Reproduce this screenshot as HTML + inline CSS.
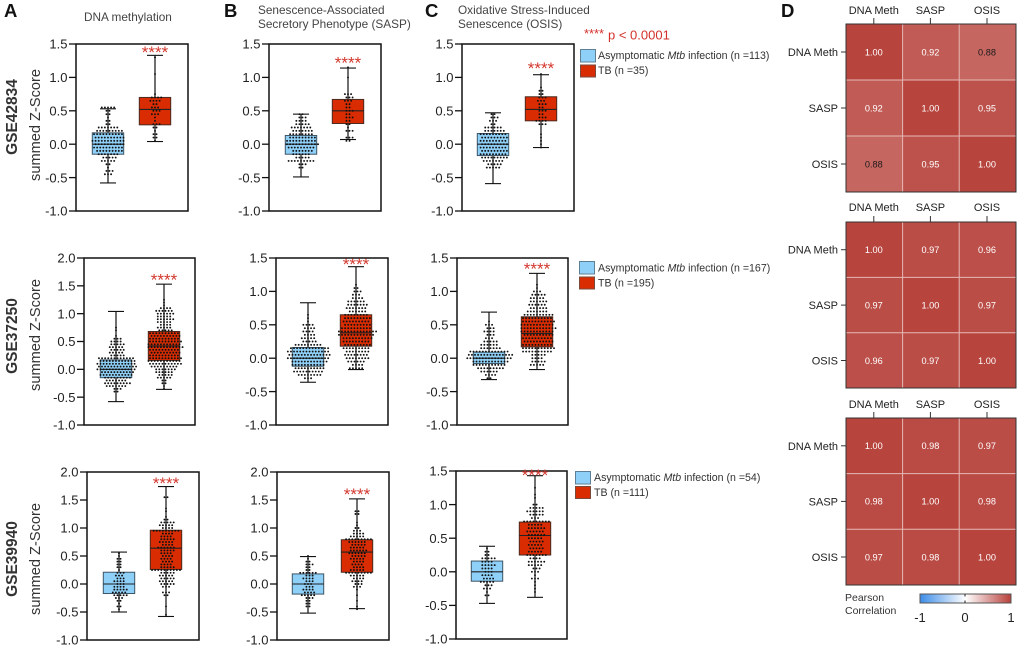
<!DOCTYPE html>
<html lang="en">
<head>
<meta charset="utf-8">
<title>Senescence signature Z-scores</title>
<style>
html,body{margin:0;padding:0;background:#fff;width:1020px;height:649px;overflow:hidden}
svg{display:block}
text{font-family:"Liberation Sans",Arial,sans-serif}
</style>
</head>
<body>
<svg id="fig" xmlns="http://www.w3.org/2000/svg" width="1020" height="649" viewBox="0 0 1020 649">
  <rect width="1020" height="649" fill="#fff"/>
  <g font-weight="bold" font-size="18.5" fill="#111">
    <text x="4" y="17">A</text>
    <text x="224" y="17">B</text>
    <text x="425" y="17">C</text>
    <text x="781" y="17">D</text>
  </g>
  <g font-size="11.8" fill="#444">
    <text x="84" y="21">DNA methylation</text>
    <text x="258" y="14">Senescence-Associated</text>
    <text x="258" y="28">Secretory Phenotype (SASP)</text>
    <text x="458" y="14">Oxidative Stress-Induced</text>
    <text x="458" y="28">Senescence (OSIS)</text>
  </g>
  <g font-weight="bold" font-size="15.5" fill="#333" text-anchor="middle">
    <text transform="translate(17 117) rotate(-90)">GSE42834</text>
    <text transform="translate(17 336) rotate(-90)">GSE37250</text>
    <text transform="translate(17 559) rotate(-90)">GSE39940</text>
  </g>
  <g font-size="14.6" fill="#333" text-anchor="middle">
    <text transform="translate(40 125) rotate(-90)">summed Z-Score</text>
    <text transform="translate(40 335) rotate(-90)">summed Z-Score</text>
    <text transform="translate(40 559) rotate(-90)">summed Z-Score</text>
  </g>
  <text x="584" y="38" font-size="12.8" fill="#d3302a">****</text>
  <text x="608" y="39.5" font-size="13" fill="#d3302a">p &lt; 0.0001</text>

  <g font-size="10.6" fill="#333">
    <rect x="580.5" y="49.5" width="15" height="12.5" fill="#8fd0f8" stroke="#5f7f95"/>
    <text x="598" y="59">Asymptomatic <tspan font-style="italic">Mtb</tspan> infection (n =113)</text>
    <rect x="580.5" y="65" width="15" height="12" fill="#d92c02" stroke="#7a4a3c"/>
    <text x="598" y="74">TB (n =35)</text>
  </g>
  <g font-size="10.6" fill="#333">
    <rect x="579.5" y="261.5" width="15" height="12.5" fill="#8fd0f8" stroke="#5f7f95"/>
    <text x="598" y="271.5">Asymptomatic <tspan font-style="italic">Mtb</tspan> infection (n =167)</text>
    <rect x="579.5" y="277" width="15" height="12" fill="#d92c02" stroke="#7a4a3c"/>
    <text x="598" y="286.5">TB (n =195)</text>
  </g>
  <g font-size="10.6" fill="#333">
    <rect x="575.5" y="471.5" width="15" height="12.5" fill="#8fd0f8" stroke="#5f7f95"/>
    <text x="594" y="481">Asymptomatic <tspan font-style="italic">Mtb</tspan> infection (n =54)</text>
    <rect x="575.5" y="486.5" width="15" height="12" fill="#d92c02" stroke="#7a4a3c"/>
    <text x="594" y="496">TB (n =111)</text>
  </g>

  <defs>
    <linearGradient id="corrGrad" x1="0" x2="1" y1="0" y2="0">
      <stop offset="0" stop-color="#3d8de8"/>
      <stop offset="0.5" stop-color="#ffffff"/>
      <stop offset="1" stop-color="#b8403a"/>
    </linearGradient>
  </defs>
  <g>
    <text x="845" y="601" font-size="10.5" fill="#333">Pearson</text>
    <text x="845" y="614" font-size="10.5" fill="#333">Correlation</text>
    <rect x="920" y="594" width="91" height="9" fill="url(#corrGrad)" stroke="#555"/>
    <line x1="965" x2="965" y1="594" y2="603" stroke="#222" stroke-dasharray="2.5 4"/>
    <g font-size="13" fill="#222" text-anchor="middle">
      <text x="920" y="622">-1</text>
      <text x="965" y="622">0</text>
      <text x="1011" y="622">1</text>
    </g>
  </g>
  <g id="plots"></g>
  <g id="heatmaps"></g>
</svg>
<script>
// ---------- Box plot data: [min, q1, median, q3, max] ----------
const a1BlueStats=[-0.58,-0.15,0,0.17,0.53];
const a1RedStats=[0.04,0.29,0.52,0.70,1.33];
const b1BlueStats=[-0.49,-0.15,0,0.13,0.45];
const b1RedStats=[0.07,0.31,0.50,0.67,1.14];
const c1BlueStats=[-0.59,-0.17,0,0.16,0.47];
const c1RedStats=[-0.05,0.35,0.52,0.71,1.04];
const a2BlueStats=[-0.58,-0.15,0,0.17,1.04];
const a2RedStats=[-0.36,0.16,0.42,0.68,1.53];
const b2BlueStats=[-0.36,-0.12,0,0.16,0.83];
const b2RedStats=[-0.17,0.18,0.38,0.65,1.37];
const c2BlueStats=[-0.32,-0.08,0,0.09,0.69];
const c2RedStats=[-0.17,0.17,0.37,0.62,1.27];
const a3BlueStats=[-0.50,-0.17,0,0.21,0.57];
const a3RedStats=[-0.58,0.26,0.64,0.96,1.74];
const b3BlueStats=[-0.52,-0.18,0,0.18,0.49];
const b3RedStats=[-0.44,0.21,0.57,0.79,1.52];
const c3BlueStats=[-0.47,-0.14,0,0.16,0.38];
const c3RedStats=[-0.38,0.25,0.54,0.74,1.43];

// ---------- Swarm data: lowest Z-score of each series, then dot count per 0.05 Z-score row ----------
const rowStep=0.05;
const a1BlueStart=-0.45;
const a1BlueCounts=[3,3,1,2,5,5,7,9,10,10,11,10,10,9,7,2,2,1,2,2,5];
const a1RedStart=0.05;
const a1RedCounts=[1,2,2,1,2,3,1,1,3,3,3,2,4,4,1,0,0,0,0,0,1,0,0,0,0,1];
const b1BlueStart=-0.35;
const b1BlueCounts=[2,3,9,5,6,7,9,11,10,9,8,7,7,5,4,3,2];
const b1RedStart=0.05;
const b1RedCounts=[2,3,0,3,1,2,2,3,2,3,2,2,3,3,3,0,0,0,0,1,0,0,1];
const c1BlueStart=-0.35;
const c1BlueCounts=[5,5,7,9,9,9,9,9,9,9,9,7,6,2,3,3,2];
const c1RedStart=-0.05;
const c1RedCounts=[1,1,1,1,1,0,0,3,4,3,2,3,2,3,3,3,2,2,1,0,0,0,1];
const a2BlueStart=-0.40;
const a2BlueCounts=[2,3,7,9,7,9,11,11,13,13,13,12,12,5,5,5,5,5,4,3,1,0,1,1];
const a2RedStart=-0.35;
const a2RedCounts=[1,1,2,2,5,5,6,7,9,11,11,11,10,10,10,12,11,11,10,10,10,5,5,4,5,6,5,6,6,4,1,1,1];
const b2BlueStart=-0.30;
const b2BlueCounts=[3,8,10,10,11,12,14,14,14,13,9,5,5,4,4,4,4,1,1,1];
const b2RedStart=-0.15;
const b2RedCounts=[5,4,6,8,8,8,9,9,9,10,12,13,10,9,9,9,8,6,7,7,6,4,3,3,2,1];
const c2BlueStart=-0.30;
const c2BlueCounts=[2,4,6,9,11,12,15,15,13,7,6,5,3,3,4,3,3,1];
const c2RedStart=-0.10;
const c2RedCounts=[5,5,4,5,10,11,10,10,10,10,11,12,11,11,10,10,7,6,6,6,5,5,3,1,1];
const a3BlueStart=-0.45;
const a3BlueCounts=[1,2,1,2,3,5,5,5,4,3,4,3,3,3,1,2,2,2,2,1,1];
const a3RedStart=-0.55;
const a3RedCounts=[1,0,0,1,0,0,0,2,3,0,3,5,5,5,5,5,10,5,4,4,4,4,4,5,6,4,5,5,4,4,9,4,5,5,2,1,0,1,1,0,0,0,2];
const b3BlueStart=-0.40;
const b3BlueCounts=[2,2,2,3,5,4,4,3,3,3,4,3,6,2,2,3,2,1,1];
const b3RedStart=-0.45;
const b3RedCounts=[1,1,0,1,0,1,0,1,3,3,4,4,5,9,5,4,4,4,5,5,6,6,5,5,6,9,5,4,3,2,1,1,0,0,2,2];
const c3BlueStart=-0.35;
const c3BlueCounts=[2,1,3,3,5,4,4,3,4,5,4,5,2,2,1];
const c3RedStart=-0.30;
const c3RedCounts=[1,1,1,1,3,1,3,3,5,6,4,7,5,5,5,5,5,6,6,6,5,9,3,5,6,5,2,0,1,1,0,1];

// ---------- Significance marker heights (Z-score) ----------
const starValues=[1.41,1.25,1.17,1.65,1.44,1.37,1.84,1.64,1.47];

// ---------- Axis tick labels ----------
const ticksTo15=["-1.0","-0.5","0.0","0.5","1.0","1.5"];
const ticksTo20=["-1.0","-0.5","0.0","0.5","1.0","1.5","2.0"];

// ---------- Heatmap data ----------
const heatLabels=["DNA Meth","SASP","OSIS"];
const heatRow1=[[1.00,0.92,0.88],[0.92,1.00,0.95],[0.88,0.95,1.00]];
const heatRow2=[[1.00,0.97,0.96],[0.97,1.00,0.97],[0.96,0.97,1.00]];
const heatRow3=[[1.00,0.98,0.97],[0.98,1.00,0.98],[0.97,0.98,1.00]];

// ---------- Frames for the plots (layout, not data) ----------
const NS='http://www.w3.org/2000/svg';
const plots=[
 {L:76,R:188,T:44,B:211,cb:108,cr:155,ticks:ticksTo15,blue:[a1BlueStats,a1BlueStart,a1BlueCounts],red:[a1RedStats,a1RedStart,a1RedCounts]},
 {L:269,R:381,T:44,B:211,cb:301,cr:348,ticks:ticksTo15,blue:[b1BlueStats,b1BlueStart,b1BlueCounts],red:[b1RedStats,b1RedStart,b1RedCounts]},
 {L:462,R:574,T:44,B:211,cb:493,cr:541,ticks:ticksTo15,blue:[c1BlueStats,c1BlueStart,c1BlueCounts],red:[c1RedStats,c1RedStart,c1RedCounts]},
 {L:84,R:195,T:258,B:425,cb:116,cr:164,ticks:ticksTo20,blue:[a2BlueStats,a2BlueStart,a2BlueCounts],red:[a2RedStats,a2RedStart,a2RedCounts]},
 {L:276,R:388,T:258,B:425,cb:308,cr:356,ticks:ticksTo15,blue:[b2BlueStats,b2BlueStart,b2BlueCounts],red:[b2RedStats,b2RedStart,b2RedCounts]},
 {L:457,R:568,T:258,B:425,cb:489,cr:537,ticks:ticksTo15,blue:[c2BlueStats,c2BlueStart,c2BlueCounts],red:[c2RedStats,c2RedStart,c2RedCounts]},
 {L:87,R:199,T:472,B:640,cb:119,cr:166,ticks:ticksTo20,blue:[a3BlueStats,a3BlueStart,a3BlueCounts],red:[a3RedStats,a3RedStart,a3RedCounts]},
 {L:277,R:389,T:472,B:640,cb:308,cr:357,ticks:ticksTo20,blue:[b3BlueStats,b3BlueStart,b3BlueCounts],red:[b3RedStats,b3RedStart,b3RedCounts]},
 {L:456,R:567,T:471,B:639,cb:487,cr:535,ticks:ticksTo15,blue:[c3BlueStats,c3BlueStart,c3BlueCounts],red:[c3RedStats,c3RedStart,c3RedCounts]}
];
const heatFrames=[
 {X:846,Y:24,W:170,H:168,cellW:56.6,cellH:56,labelY:10,values:heatRow1},
 {X:846,Y:222,W:170,H:166,cellW:56.6,cellH:55.4,labelY:207,values:heatRow2},
 {X:846,Y:418,W:170,H:167,cellW:56.6,cellH:55.6,labelY:404,values:heatRow3}
];

function make(tag,attrs,parent,txt){
  const el=document.createElementNS(NS,tag);
  for(const k in attrs){el.setAttribute(k,attrs[k]);}
  if(txt!==undefined){el.textContent=txt;}
  parent.appendChild(el);
  return el;
}

function drawSeries(g,yOf,cx,stats,start,counts,fill,edge){
  const s=make('g',{},g);
  
  
  const stem=make('line',{x1:cx,x2:cx,y1:yOf(stats[0]),y2:yOf(stats[4]),stroke:'#111','stroke-width':1.2},s);
  
  
  const capLow=make('line',{x1:cx-8,x2:cx+8,y1:yOf(stats[0]),y2:yOf(stats[0]),stroke:'#111','stroke-width':1.1},s);
  
  
  const capHigh=make('line',{x1:cx-8,x2:cx+8,y1:yOf(stats[4]),y2:yOf(stats[4]),stroke:'#111','stroke-width':1.1},s);
  
  
  const box=make('rect',{x:cx-15.7,width:31.4,y:yOf(stats[3]),height:yOf(stats[1])-yOf(stats[3]),fill:fill,stroke:edge,'stroke-width':1},s);
  
  
  const med=make('line',{x1:cx-15.7,x2:cx+15.7,y1:yOf(stats[2]),y2:yOf(stats[2]),stroke:'#222','stroke-width':1.1},s);
  
  
  counts.forEach(function(n,row){
    const v=start+row*rowStep;
    const stagger=(n>2&&row%2===1)?1.5:0;
    for(let i=0;i<n;i++){
      const dot=make('circle',{cx:cx+stagger+(i-(n-1)/2)*3.1,cy:yOf(v),r:0.95,fill:'#111'},s);
      
      
    }
  });
}

const plotRoot=document.getElementById('plots');
plots.forEach(function(p,idx){
  const g=make('g',{},plotRoot);
  
  
  const lo=parseFloat(p.ticks[0]),hi=parseFloat(p.ticks[p.ticks.length-1]);
  const yOf=function(v){return p.T+(hi-v)/(hi-lo)*(p.B-p.T);};
  const frame=make('rect',{x:p.L,y:p.T,width:p.R-p.L,height:p.B-p.T,fill:'#fff',stroke:'#111','stroke-width':1.5},g);
  
  
  p.ticks.forEach(function(t){
    const y=yOf(parseFloat(t));
    const tick=make('line',{x1:p.L-7,x2:p.L,y1:y,y2:y,stroke:'#111','stroke-width':1.3},g);
    
    
    const lab=make('text',{x:p.L-8.5,y:y+4.7,'text-anchor':'end','font-size':13,fill:'#222'},g,t);
    
    
  });
  drawSeries(g,yOf,p.cb,p.blue[0],p.blue[1],p.blue[2],'#8fd0f8','#3d5566');
  drawSeries(g,yOf,p.cr,p.red[0],p.red[1],p.red[2],'#d92c02','#4a2a20');
  const star=make('text',{x:p.cr,y:yOf(starValues[idx])+8,'text-anchor':'middle','font-size':17,fill:'#d3392f'},g,'****');
  
  
});

function heatColor(v){
  const t=Math.max(0,Math.min(1,(v-0.88)/0.12));
  const a=[197,102,96],b=[184,68,62];
  return 'rgb('+a.map(function(c,i){return Math.round(c+(b[i]-c)*t);}).join(',')+')';
}

const heatRoot=document.getElementById('heatmaps');
heatFrames.forEach(function(f){
  const g=make('g',{},heatRoot);
  
  
  f.values.forEach(function(row,r){
    row.forEach(function(v,c){
      const x=f.X+c*f.cellW,y=f.Y+r*f.cellH;
      const cell=make('rect',{x:x,y:y,width:f.cellW,height:f.cellH,fill:heatColor(v)},g);
      
      
      const label=make('text',{x:x+f.cellW/2-0.5,y:y+f.cellH/2+3.3,'text-anchor':'middle','font-size':9.2,fill:v<0.9?'#1a1a1a':'#fff'},g,v.toFixed(2));
      
      
    });
  });
  [1,2].forEach(function(i){
    const vl=make('line',{x1:f.X+i*f.cellW,x2:f.X+i*f.cellW,y1:f.Y,y2:f.Y+f.H,stroke:'#e6b9b5','stroke-width':1},g);
    
    
    const hl=make('line',{x1:f.X,x2:f.X+f.W,y1:f.Y+i*f.cellH,y2:f.Y+i*f.cellH,stroke:'#e6b9b5','stroke-width':1},g);
    
    
  });
  const border=make('rect',{x:f.X,y:f.Y,width:f.W,height:f.H,fill:'none',stroke:'#333','stroke-width':1},g);
  
  
  heatLabels.forEach(function(name,i){
    const cx=f.X+(i+0.5)*f.cellW-0.5;
    const top=make('text',{x:cx,y:f.labelY+4,'text-anchor':'middle','font-size':11,fill:'#222'},g,name);
    
    
    const tt=make('line',{x1:cx,x2:cx,y1:f.Y-6,y2:f.Y,stroke:'#333','stroke-width':1},g);
    
    
    const cy=f.Y+(i+0.5)*f.cellH;
    const left=make('text',{x:f.X-8,y:cy+4,'text-anchor':'end','font-size':11,fill:'#222'},g,name);
    
    
    const lt=make('line',{x1:f.X-5,x2:f.X,y1:cy,y2:cy,stroke:'#333','stroke-width':1},g);
    
    
  });
});
</script>
</body>
</html>
